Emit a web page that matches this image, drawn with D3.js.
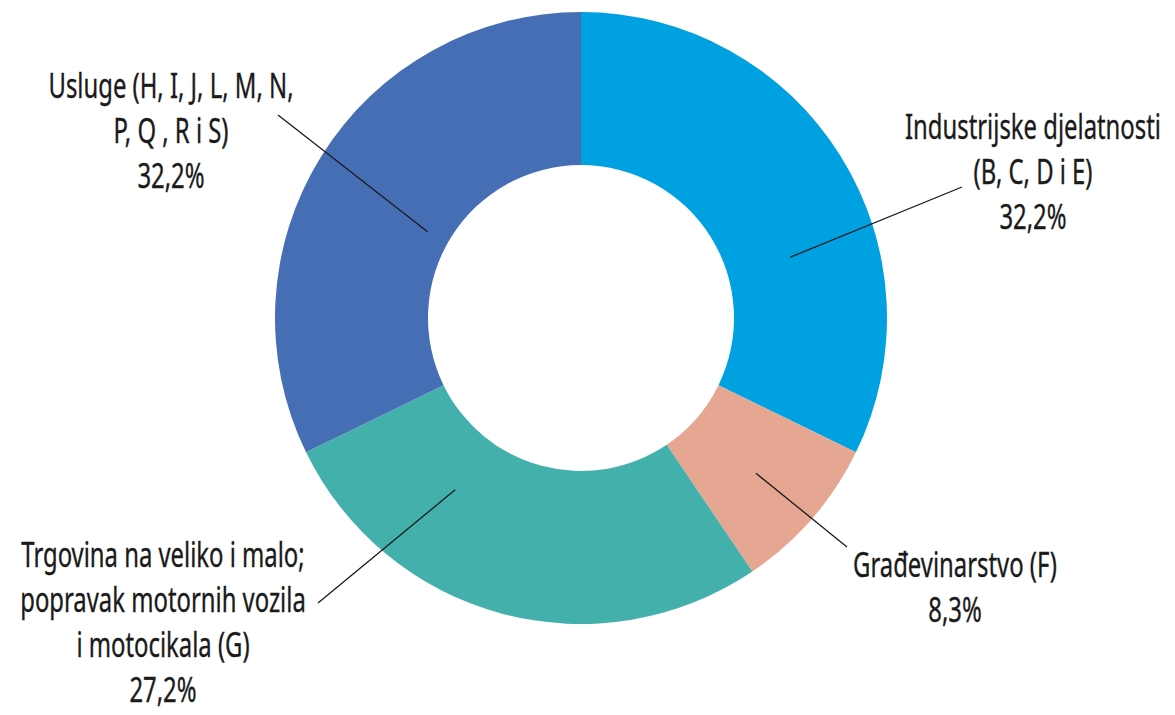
<!DOCTYPE html>
<html>
<head>
<meta charset="utf-8">
<script src="https://cdn.jsdelivr.net/npm/d3@7"></script>
<style>
  html, body { margin: 0; padding: 0; background: #ffffff; }
  svg { display: block; }
  text { font-family: "Noto Sans", "Open Sans", sans-serif; fill: #1a1a1a; stroke: #1a1a1a; stroke-width: 0.35px; }
</style>
</head>
<body>
<svg id="chart" width="1175" height="715"></svg>
<script>
// ---- data ----
const categories = [
  "Industrijske djelatnosti (B, C, D i E)",
  "Građevinarstvo (F)",
  "Trgovina na veliko i malo; popravak motornih vozila i motocikala (G)",
  "Usluge (H, I, J, L, M, N, P, Q , R i S)"
];
const values = [32.2, 8.3, 27.2, 32.2];
const valueLabels = ["32,2%", "8,3%", "27,2%", "32,2%"];
const labelLines = [
  ["Industrijske djelatnosti", "(B, C, D i E)"],
  ["Građevinarstvo (F)"],
  ["Trgovina na veliko i malo;", "popravak motornih vozila", "i motocikala (G)"],
  ["Usluge (H, I, J, L, M, N,", "P, Q , R i S)"]
];
const colors = ["#00A1E1", "#E5A692", "#43B0AC", "#466EB4"];

// ---- layout ----
const cx = 581, cy = 318;
const outerR = 306, innerR = 153;
const fontSize = 34, lineH = 45;
const refLineWidth = 256; // width of "Industrijske djelatnosti" in the reference
const labelPos = [
  {x: 1033, y: 139},
  {x: 955, y: 577},
  {x: 163, y: 567},
  {x: 171, y: 98}
];
const leaderIn = [
  {f: 0.136, r: 218},
  {f: 0.02, r: 234},
  {f: 0.217, r: 213},
  {f: -0.023, r: 176}
];
const leaderOut = [
  {x: 962, y: 187},
  {x: 847, y: 547},
  {x: 318, y: 603},
  {x: 278, y: 115}
];

const svg = d3.select("#chart");
const g = svg.append("g").attr("transform", `translate(${cx},${cy})`);

const pie = d3.pie().sort(null).value(d => d).startAngle(0).endAngle(2 * Math.PI);
const arcs = pie(values);
const arc = d3.arc().innerRadius(innerR).outerRadius(outerR);

g.selectAll("path.slice")
  .data(arcs)
  .join("path")
  .attr("class", "slice")
  .attr("d", arc)
  .attr("fill", (d, i) => colors[i]);

svg.selectAll("line.leader")
  .data(arcs)
  .join("line")
  .attr("class", "leader")
  .each(function(d, i) {
    const mid = (d.startAngle + d.endAngle) / 2;
    const a = mid + leaderIn[i].f * (d.endAngle - d.startAngle);
    d3.select(this)
      .attr("x1", cx + leaderIn[i].r * Math.sin(a))
      .attr("y1", cy - leaderIn[i].r * Math.cos(a))
      .attr("x2", leaderOut[i].x).attr("y2", leaderOut[i].y);
  })
  .attr("stroke", "#1a1a1a")
  .attr("stroke-width", 1.3);

// measure to find horizontal condensing factor
const probe = svg.append("text").attr("font-size", fontSize).text(labelLines[0][0]);
const sx = refLineWidth / probe.node().getComputedTextLength();
probe.remove();

const labels = svg.selectAll("text.label")
  .data(arcs)
  .join("text")
  .attr("class", "label")
  .attr("text-anchor", "middle")
  .attr("font-size", fontSize)
  .attr("transform", (d, i) => `translate(${labelPos[i].x},0) scale(${sx},1)`);

labels.each(function(d, i) {
  const t = d3.select(this);
  labelLines[i].concat([valueLabels[i]]).forEach((ln, k) => {
    t.append("tspan")
      .attr("x", 0)
      .attr("y", labelPos[i].y + k * lineH)
      .text(ln);
  });
});
</script>
</body>
</html>
